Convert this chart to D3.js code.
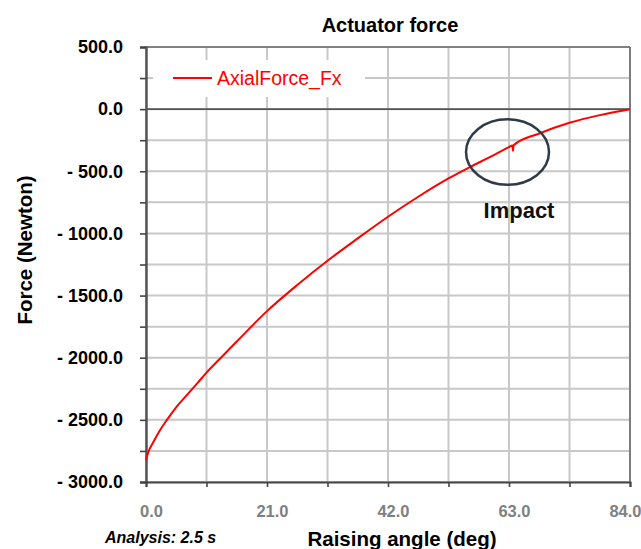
<!DOCTYPE html>
<html>
<head>
<meta charset="utf-8">
<script src="https://d3js.org/d3.v7.min.js"></script>
<style>
  body { margin: 0; background: #fff; }
  text { font-family: "Liberation Sans", Arial, sans-serif; }
</style>
</head>
<body>
<div id="chart"></div>
<script>
// Data
var angles = [0, 0.4, 1.3, 2.4, 3.6, 5.3, 7, 9, 10.5, 13, 15.75, 21, 26.25, 31.5, 36.75, 42, 47.25,
              52.5, 56.3, 59.5, 63, 63.6, 63.7, 63.8, 68.25, 73.5, 78.75, 84];
var forces = [-2824, -2760, -2676, -2585, -2502, -2395, -2305, -2200, -2120, -2000, -1870, -1625, -1415, -1220, -1040, -866, -705,
              -558, -464, -390, -305, -292, -335, -291, -196, -110, -48, 0];
var xLabelTicks = [0, 21, 42, 63, 84];
var xMinorTicks = [0, 10.5, 21, 31.5, 42, 52.5, 63, 73.5, 84];
var yLabelTicks = [500, 0, -500, -1000, -1500, -2000, -2500, -3000];
var yMinorTicks = d3.range(-3000, 501, 250);
var seriesName = "AxialForce_Fx";
var impactAngle = 63, impactForce = -345;

var margin = {top: 47, right: 11, bottom: 67, left: 146},
    width = 641 - margin.left - margin.right,
    height = 549 - margin.top - margin.bottom;

var svg = d3.select("#chart")
  .append("svg")
    .attr("width", 641)
    .attr("height", 549)
  .append("g")
    .attr("transform", "translate(" + margin.left + "," + margin.top + ")");

var x = d3.scaleLinear().domain([0, 84]).range([0, width]);
var y = d3.scaleLinear().domain([-3000, 500]).range([height, 0]);

// Grid
var gridPath = "";
xMinorTicks.forEach(function(d) {
  gridPath += "M" + x(d) + ",0V" + height;
});
yMinorTicks.forEach(function(d) {
  gridPath += "M0," + y(d) + "H" + width;
});
svg.append("path")
  .attr("d", gridPath)
  .attr("fill", "none")
  .attr("stroke", "#c8c8c8")
  .attr("stroke-width", 2);

// Frame top / right
svg.append("line").attr("x1", 0).attr("x2", width).attr("y1", 0).attr("y2", 0)
  .style("stroke", "#6a6a6a").style("stroke-width", 1.6);
svg.append("line").attr("x1", width).attr("x2", width).attr("y1", 0).attr("y2", height)
  .style("stroke", "#6a6a6a").style("stroke-width", 1.6);

// Zero line
svg.append("line").attr("x1", 0).attr("x2", width).attr("y1", y(0)).attr("y2", y(0))
  .style("stroke", "#555").style("stroke-width", 1.6);

// Y axis
function fmt(d) {
  return d < 0 ? "- " + Math.abs(d).toFixed(1) : d.toFixed(1);
}
var yAxis = svg.append("g")
  .call(d3.axisLeft(y)
    .tickValues(yMinorTicks)
    .tickSize(6)
    .tickPadding(17)
    .tickFormat(function(d) { return yLabelTicks.indexOf(d) >= 0 ? fmt(d) : ""; }));
yAxis.select(".domain").style("stroke", "#555").style("stroke-width", 2.5);
yAxis.selectAll(".tick line").style("stroke", "#444").style("stroke-width", 1.6);
yAxis.selectAll("text")
  .style("font-family", "'Liberation Sans', Arial, sans-serif")
  .style("font-size", "18px").style("font-weight", "bold").style("fill", "#000");

// X axis
var xAxis = svg.append("g")
  .attr("transform", "translate(0," + height + ")")
  .call(d3.axisBottom(x)
    .tickValues(xMinorTicks)
    .tickSize(5)
    .tickPadding(18)
    .tickFormat(function(d) { return xLabelTicks.indexOf(d) >= 0 ? d.toFixed(1) : ""; }));
xAxis.select(".domain").style("stroke", "#444").style("stroke-width", 2);
xAxis.selectAll(".tick line").style("stroke", "#444").style("stroke-width", 1.6);
xAxis.selectAll("text")
  .style("font-family", "'Liberation Sans', Arial, sans-serif")
  .style("font-size", "16.5px").style("font-weight", "bold").style("fill", "#7f7f7f")
  .attr("dx", "5");
xAxis.selectAll(".tick").filter(function(d) { return d === 84; }).select("text")
  .attr("text-anchor", "end").attr("dx", margin.right);

// Legend
var legend = svg.append("g").attr("transform", "translate(7,13)");
legend.append("rect").attr("width", 212).attr("height", 37).style("fill", "#fff");
legend.append("line").attr("x1", 20).attr("x2", 59).attr("y1", 18).attr("y2", 18)
  .style("stroke", "red").style("stroke-width", 2);
legend.append("text").attr("x", 64).attr("y", 25)
  .style("font-size", "19.5px").style("fill", "red")
  .text(seriesName);

// Curve
var lineGen = d3.line()
  .x(function(d) { return x(d[0]); })
  .y(function(d) { return y(d[1]); })
  .curve(d3.curveMonotoneX);

svg.append("path")
  .datum(d3.zip(angles, forces))
  .attr("d", lineGen)
  .style("fill", "none")
  .style("stroke", "red")
  .style("stroke-width", 2);

// Impact annotation
svg.append("ellipse")
  .attr("cx", x(impactAngle) - 1.5)
  .attr("cy", y(impactForce))
  .attr("rx", 41.5).attr("ry", 32.7)
  .style("fill", "none").style("stroke", "#2e3a4a").style("stroke-width", 2.5);

svg.append("text")
  .attr("x", x(impactAngle) + 10)
  .attr("y", y(impactForce) + 66)
  .style("text-anchor", "middle")
  .style("font-size", "22px").style("font-weight", "bold").style("fill", "#111")
  .text("Impact");

// Title
svg.append("text")
  .attr("x", 390 - margin.left)
  .attr("y", 32 - margin.top)
  .style("text-anchor", "middle")
  .style("font-size", "20px").style("font-weight", "bold")
  .text("Actuator force");

// X axis label
svg.append("text")
  .attr("x", 402 - margin.left)
  .attr("y", 546 - margin.top)
  .style("text-anchor", "middle")
  .style("font-size", "20.5px").style("font-weight", "bold")
  .text("Raising angle (deg)");

// Analysis note
svg.append("text")
  .attr("x", 105 - margin.left)
  .attr("y", 543 - margin.top)
  .style("font-size", "16px").style("font-weight", "bold").style("font-style", "italic")
  .text("Analysis: 2.5 s");

// Y axis label
svg.append("text")
  .attr("transform", "rotate(-90)")
  .attr("x", 0 - (250 - margin.top))
  .attr("y", 32 - margin.left)
  .style("text-anchor", "middle")
  .style("font-size", "20.5px").style("font-weight", "bold")
  .text("Force (Newton)");
</script>
</body>
</html>
